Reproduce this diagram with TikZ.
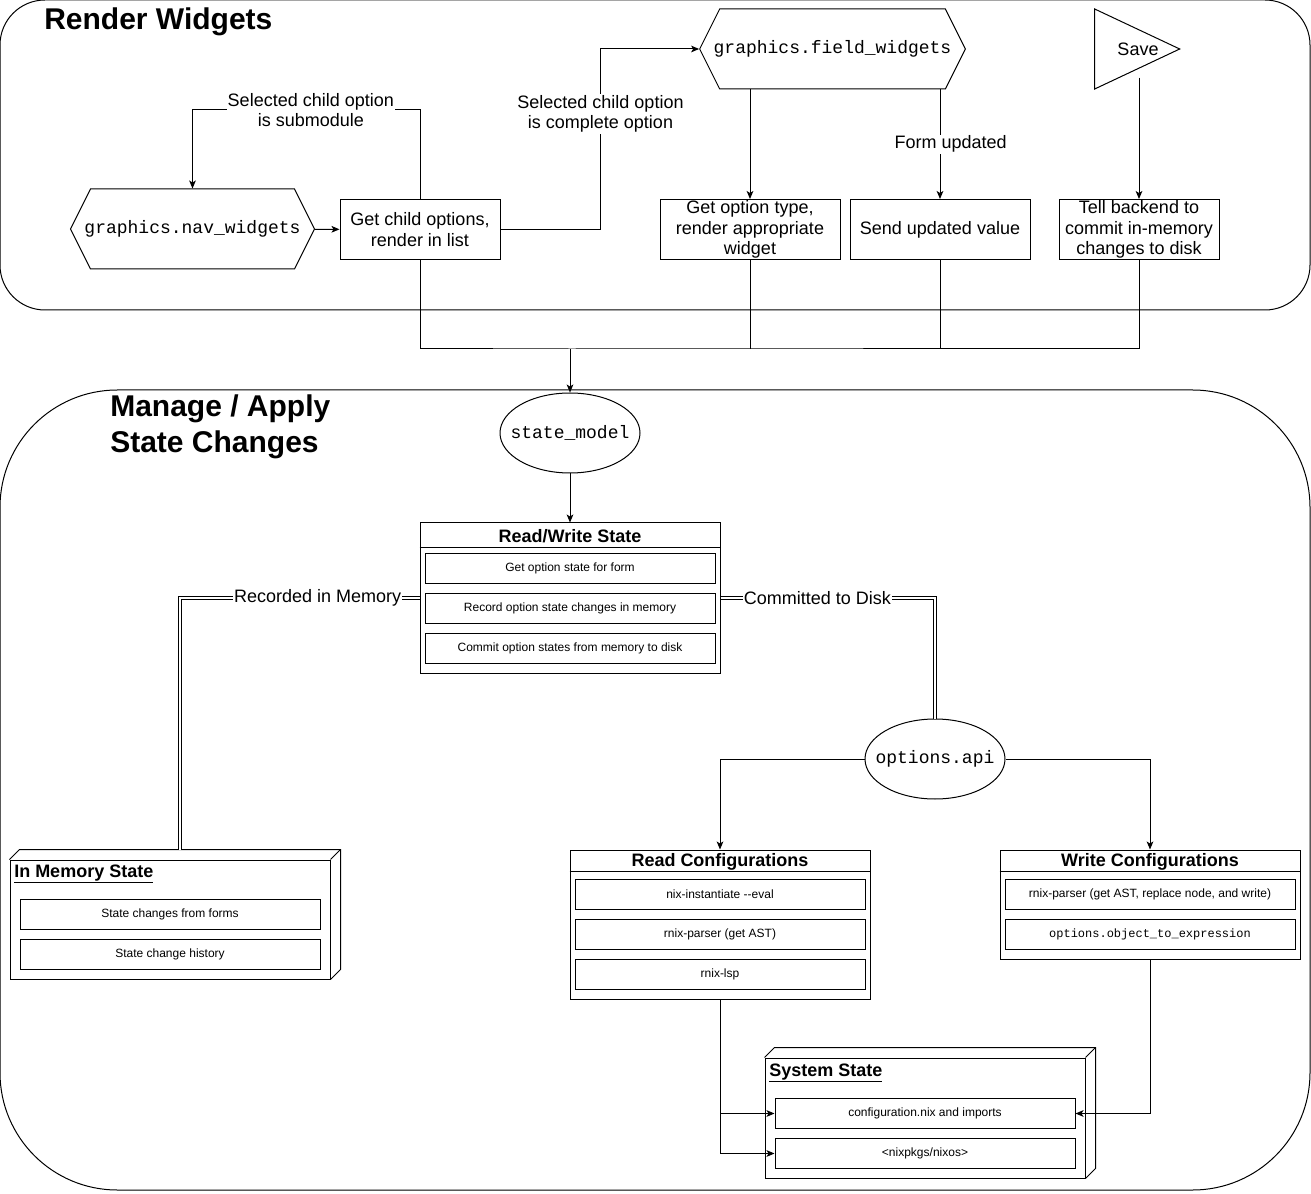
\documentclass[tikz,border=0pt]{standalone}
\usepackage{fontspec}
\setmainfont{Liberation Sans}
\setmonofont{Liberation Mono}
\usetikzlibrary{
  arrows.meta,
  shapes.geometric,
  shapes.symbols
}
\definecolor{nwInk}{HTML}{000000}
\definecolor{nwPaper}{HTML}{FFFFFF}
\tikzset{
  title/.style={font=\fontsize{22.5}{27}\selectfont\bfseries, text=nwInk, inner sep=0pt, align=left},
  panel/.style={draw=nwInk, line width=0.75pt, fill=nwPaper},
  block/.style={
    draw=nwInk,
    line width=0.75pt,
    fill=nwPaper,
    align=center,
    inner sep=0pt,
    minimum height=45pt
  },
  hexblock/.style={
    block,
    signal,
    signal to=west and east,
    signal pointer angle=126.87,
    inner xsep=-4.5pt,
    minimum height=60pt,
    font=\fontsize{13.5}{15.5}\selectfont\ttfamily
  },
  savetri/.style={
    block,
    isosceles triangle,
    isosceles triangle stretches,
    minimum width=60pt,
    minimum height=63.75pt
  },
  state/.style={
    block,
    ellipse,
    inner xsep=-8pt,
    minimum width=105pt,
    minimum height=60pt,
    font=\fontsize{13.5}{15.5}\selectfont\ttfamily
  },
  lane/.style={block, minimum width=225pt},
  lanetitle/.style={font=\fontsize{13.5}{15.5}\selectfont\bfseries, inner sep=0pt},
  umlnode/.style={block, minimum width=240pt},
  nodetitle/.style={font=\fontsize{13.5}{15.5}\selectfont\bfseries, inner sep=0pt, anchor=west},
  item/.style={
    block,
    minimum width=217.5pt,
    minimum height=22.5pt,
    font=\fontsize{9}{11}\selectfont
  },
  elabel/.style={fill=nwPaper, inner sep=0.8pt, align=center},
  link/.style={draw=nwInk, line width=0.75pt},
  arrow/.style={link, -{Stealth[length=6pt, width=5pt, inset=1.5pt]}},
  dlink/.style={draw=nwInk, line width=0.75pt, double=nwPaper, double distance=1.5pt}
}

\begin{document}
\begin{tikzpicture}[x=0.75pt, y=-0.75pt, font=\fontsize{13.5}{15.5}\selectfont]
\useasboundingbox (0,0) rectangle (1311,1194);

% --------------------------------------------------------------------------
% Panels
% --------------------------------------------------------------------------
\node[panel, rounded corners=33.75pt, minimum width=982.5pt, minimum height=232.5pt] (render_panel) at (655,155) {};
\node[panel, rounded corners=88pt, minimum width=982.5pt, minimum height=600pt] (manage_panel) at (655,790) {};

\node[title, anchor=base west] (render_title) at (44,30) {Render Widgets};
\node[title, anchor=west] (manage_title) at (110,427) {Manage / Apply\\State Changes};

% --------------------------------------------------------------------------
% Render widgets
% --------------------------------------------------------------------------
\node[hexblock] (nav) at (192.5,229) {graphics.nav\_widgets};
\node[block, minimum width=120pt] (getchild) at (420,229.5) {Get child options,\\render in list};
\node[hexblock] (field) at (832.5,49) {graphics.field\_widgets};
\node[block, minimum width=135pt] (getopt) at (750,229.5) {Get option type,\\render appropriate\\widget};
\node[block, minimum width=135pt] (send) at (940,229.5) {Send updated value};
\node[savetri, anchor=apex] (save) at (1181,49) {};
\node (save_text) at (1138,49) {Save};
\node[block, minimum width=120pt] (tell) at (1139,229.5) {Tell backend to\\commit in-memory\\changes to disk};

\draw[arrow] (nav) -- (getchild);
\draw[arrow] (getchild.north) -- ++(0,-89) -| node[elabel, pos=0.24] {Selected child option\\is submodule} (nav.north);
\draw[arrow] (getchild.east) -- ++(100,0) |- node[elabel, pos=0.32] {Selected child option\\is complete option} (field.west);
\draw[arrow] (field.south -| getopt.north) -- (getopt.north);
\draw[arrow] (field.south -| send.north) -- node[elabel, xshift=8pt] {Form updated} (send.north);
\draw[arrow] (save.south -| tell.north) -- (tell.north);

\coordinate (bus) at (570,349);
\draw[link] (getchild.south) |- (bus) -| (tell.south);
\draw[link] (getopt.south) -- (getopt.south |- bus);
\draw[link] (send.south) -- (send.south |- bus);

% --------------------------------------------------------------------------
% State model
% --------------------------------------------------------------------------
\node[state] (state_model) at (570,433) {state\_model};

\node[lane, minimum height=112.5pt] (rw) at (570,598) {};
\node[lanetitle] (rw_title) at (570,536) {Read/Write State};
\draw[link] ([shift={(0,25)}]rw.north west) -- ([shift={(0,25)}]rw.north east);
\node[item] (rw_get) at (570,568.5) {Get option state for form};
\node[item] (rw_record) at (570,608.5) {Record option state changes in memory};
\node[item] (rw_commit) at (570,648.5) {Commit option states from memory to disk};

\draw[arrow] (bus) -- (state_model.north);
\draw[arrow] (state_model) -- (rw);

% --------------------------------------------------------------------------
% In memory state
% --------------------------------------------------------------------------
\node[umlnode, minimum height=89.25pt] (mem) at (170,919.5) {};
\draw[link] (mem.north west) -- ++(10,-10) -| ([shift={(10,-10)}]mem.south east) -- (mem.south east);
\draw[link] (mem.north east) -- ++(10,-10);
\node[nodetitle] (mem_title) at (14,874) {\underline{In Memory State}};
\node[item, minimum width=225pt] (mem_forms) at (170,914.5) {State changes from forms};
\node[item, minimum width=225pt] (mem_history) at (170,954.5) {State change history};

\draw[dlink] (rw.west) -| node[elabel, pos=0.2125] {Recorded in Memory} ([shift={(10,-10)}]mem.north);

% --------------------------------------------------------------------------
% Options api
% --------------------------------------------------------------------------
\node[state] (api) at (935,759) {options.api};

\draw[dlink] (rw.east) -| node[elabel, pos=0.226] {Committed to Disk} (api.north);

\node[lane, minimum height=111.75pt] (readconf) at (720,924.5) {};
\node[lanetitle] (readconf_title) at (720,862) {Read Configurations};
\draw[link] ([shift={(0,22)}]readconf.north west) -- ([shift={(0,22)}]readconf.north east);
\node[item] (read_eval) at (720,894.5) {nix-instantiate -{}-eval};
\node[item] (read_ast) at (720,934.5) {rnix-parser (get AST)};
\node[item] (read_lsp) at (720,974.5) {rnix-lsp};

\node[lane, minimum height=81.75pt] (writeconf) at (1150,904.5) {};
\node[lanetitle] (writeconf_title) at (1150,862) {Write Configurations};
\draw[link] ([shift={(0,22)}]writeconf.north west) -- ([shift={(0,22)}]writeconf.north east);
\node[item] (write_ast) at (1150,894.5) {rnix-parser (get AST, replace node, and write)};
\node[item] (write_expr) at (1150,934.5) {\ttfamily options.object\_to\_expression};

\draw[arrow] (api.west) -| (readconf.north);
\draw[arrow] (api.east) -| (writeconf.north);

% --------------------------------------------------------------------------
% System state
% --------------------------------------------------------------------------
\node[umlnode, minimum height=90pt] (sys) at (925,1118) {};
\draw[link] (sys.north west) -- ++(10,-10) -| ([shift={(10,-10)}]sys.south east) -- (sys.south east);
\draw[link] (sys.north east) -- ++(10,-10);
\node[nodetitle] (sys_title) at (769,1073) {\underline{System State}};
\node[item, minimum width=225pt] (sys_conf) at (925,1113.5) {configuration.nix and imports};
\node[item, minimum width=225pt] (sys_pkgs) at (925,1153.5) {\textless nixpkgs/nixos\textgreater};

\draw[arrow] (readconf.south) |- (sys_conf.west);
\draw[arrow] (readconf.south) |- (sys_pkgs.west);
\draw[arrow] (writeconf.south) |- (sys_conf.east);

\end{tikzpicture}
\end{document}
